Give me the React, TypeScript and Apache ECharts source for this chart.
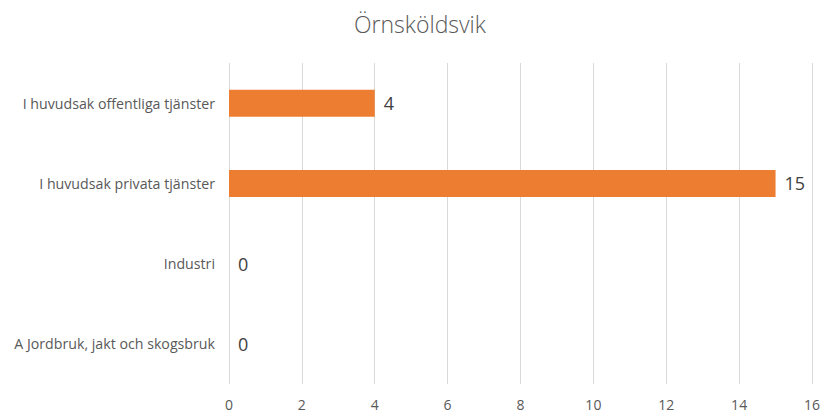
import React, { useEffect, useRef } from "react";
import * as echarts from "echarts";

const title = "Örnsköldsvik";
const categories = [
  "A Jordbruk, jakt och skogsbruk",
  "Industri",
  "I huvudsak privata tjänster",
  "I huvudsak offentliga tjänster",
];
const values = [0, 0, 15, 4];
const xTicks = { min: 0, max: 16, interval: 2 };

export default function App() {
  const ref = useRef<HTMLDivElement>(null);
  useEffect(() => {
    if (!ref.current) return;
    const chart = echarts.init(ref.current, undefined, { renderer: "svg" });
    const font = "Open Sans, Liberation Sans, Arial, sans-serif";
    chart.setOption({
      animation: false,
      backgroundColor: "#ffffff",
      title: {
        text: title,
        left: 349,
        top: 7,
        textStyle: { fontFamily: font, fontSize: 23, fontWeight: 300, color: "#595959" },
      },
      grid: { left: 229, right: 10, top: 63, bottom: 30, containLabel: false },
      xAxis: {
        type: "value",
        min: xTicks.min,
        max: xTicks.max,
        interval: xTicks.interval,
        axisLine: { show: false },
        axisTick: { show: false },
        axisLabel: { color: "#595959", fontFamily: font, fontSize: 14, margin: 13 },
        splitLine: { show: true, lineStyle: { color: "#D9D9D9", width: 1 } },
      },
      yAxis: {
        type: "category",
        data: categories,
        axisLine: { show: false },
        axisTick: { show: false },
        axisLabel: { color: "#595959", fontFamily: font, fontSize: 14.2, margin: 14 },
        splitLine: { show: false },
      },
      series: [
        {
          type: "bar",
          data: values,
          barWidth: 27,
          itemStyle: { color: "#ED7D31" },
          label: {
            show: true,
            position: "right",
            distance: 9,
            color: "#404040",
            fontFamily: font,
            fontSize: 18,
          },
        },
      ],
    });
    return () => chart.dispose();
  }, []);
  return (
    <div
      ref={ref}
      style={{ position: "absolute", left: 0, top: 0, width: 823, height: 414 }}
    />
  );
}
